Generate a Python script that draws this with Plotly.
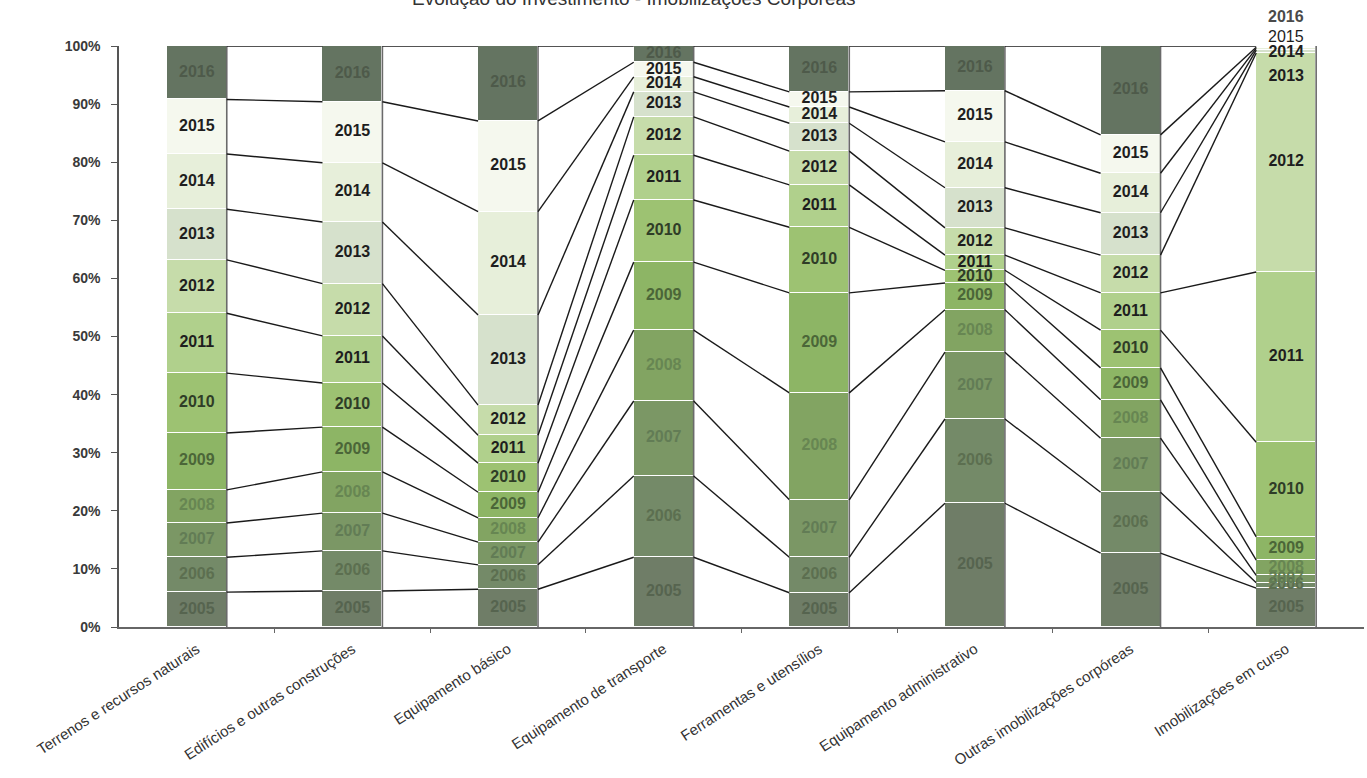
import numpy as np
import plotly.graph_objects as go

# Asset categories (x axis)
categories = [
    "Terrenos e recursos naturais",
    "Edifícios e outras construções",
    "Equipamento básico",
    "Equipamento de transporte",
    "Ferramentas e utensílios",
    "Equipamento administrativo",
    "Outras imobilizações corpóreas",
    "Imobilizações em curso",
]

years = [2005, 2006, 2007, 2008, 2009, 2010, 2011, 2012, 2013, 2014, 2015, 2016]

# Share of each year's investment within each category (%)
share_2005 = [6.0, 6.2, 6.5, 12.0, 5.9, 21.3, 12.7, 6.7]
share_2006 = [6.0, 6.9, 4.2, 14.0, 6.1, 14.5, 10.5, 0.9]
share_2007 = [5.9, 6.5, 3.9, 12.9, 9.9, 11.5, 9.3, 1.3]
share_2008 = [5.7, 7.1, 4.2, 12.2, 18.4, 7.3, 6.6, 2.6]
share_2009 = [9.8, 7.7, 4.4, 11.7, 17.2, 4.6, 5.5, 4.0]
share_2010 = [10.3, 7.6, 5.0, 10.7, 11.3, 2.2, 6.5, 16.3]
share_2011 = [10.3, 8.1, 4.8, 7.7, 7.3, 2.6, 6.4, 29.3]
share_2012 = [9.2, 9.0, 5.2, 6.6, 5.8, 4.7, 6.5, 37.7]
share_2013 = [8.7, 10.6, 15.5, 4.3, 4.8, 6.9, 7.3, 0.5]
share_2014 = [9.5, 10.2, 17.8, 2.6, 2.8, 7.9, 6.8, 0.3]
share_2015 = [9.4, 10.5, 15.6, 2.5, 2.6, 8.8, 6.6, 0.2]
share_2016 = [9.2, 9.6, 12.9, 2.8, 7.9, 7.7, 15.3, 0.2]

shares = [share_2005, share_2006, share_2007, share_2008, share_2009, share_2010,
          share_2011, share_2012, share_2013, share_2014, share_2015, share_2016]

# ---- styling ----
seg_colors = ["#6f7d67", "#748a68", "#7b9765", "#82a462", "#8db565", "#9dc272",
              "#b0d08c", "#c6dcaa", "#d6e1cc", "#e7efda", "#f5f8ee", "#647461"]
label_colors = ["#56644f", "#5c6f50", "#627c55", "#678652", "#4b6638", "#2f3d27",
                "#1e1e1e", "#1e1e1e", "#1e1e1e", "#1e1e1e", "#1e1e1e", "#4e5a4a"]
BAR_W = 0.385
FONT = "Liberation Sans, Arial, sans-serif"
LABEL_SIZE = 16

# label positions for the tiny top segments of the last bar (stacked above it)
label_y_override = {(7, 2013): 94.7, (7, 2014): 98.8, (7, 2015): 101.6, (7, 2016): 105.0}

vals = np.array(shares, dtype=float)             # years x categories
vals = vals / vals.sum(axis=0) * 100.0            # 100% stacked
tops = np.cumsum(vals, axis=0)
x_idx = np.arange(len(categories))

fig = go.Figure()

for k, yr in enumerate(years):
    fig.add_trace(go.Bar(
        x=x_idx, y=vals[k], width=BAR_W, name=str(yr),
        marker=dict(color=seg_colors[k], line=dict(color="#ffffff", width=1.5)),
        showlegend=False, hoverinfo="skip",
    ))

# dark shadow edge on the right side of each bar
ex, ey = [], []
for i in x_idx:
    ex += [i + BAR_W / 2, i + BAR_W / 2, None]
    ey += [0, 100, None]
fig.add_trace(go.Scatter(x=ex, y=ey, mode="lines", xaxis="x2",
                         line=dict(color="#6a6a6a", width=1.6),
                         showlegend=False, hoverinfo="skip"))

# series lines joining the top of each segment between neighbouring bars
lx, ly = [], []
for i in range(len(categories) - 1):
    for k in range(len(years)):
        lx += [i + BAR_W / 2, i + 1 - BAR_W / 2, None]
        ly += [tops[k, i], tops[k, i + 1], None]
fig.add_trace(go.Scatter(x=lx, y=ly, mode="lines", xaxis="x2",
                         line=dict(color="#1a1a1a", width=1.4),
                         showlegend=False, hoverinfo="skip"))

# year labels centred in each segment
tx, ty, tt, tc = [], [], [], []
for i in x_idx:
    for k, yr in enumerate(years):
        y = label_y_override.get((int(i), yr), tops[k, i] - vals[k, i] / 2)
        if y > 100:
            # labels lifted above the plot area (paper fraction == % on a 0-100 axis)
            fig.add_annotation(
                x=i, y=y / 100.0, xref="x", yref="paper", text=str(yr), showarrow=False,
                xanchor="center", yanchor="middle",
                font=dict(family=FONT, size=LABEL_SIZE,
                          color="#4a4a4a" if yr == 2016 else "#1e1e1e",
                          weight="bold" if yr == 2016 else "normal"),
            )
            continue
        tx.append(i)
        ty.append(y)
        tt.append(str(yr))
        tc.append(label_colors[k])
fig.add_trace(go.Scatter(x=tx, y=ty, mode="text", text=tt, cliponaxis=False,
                         textposition="middle center",
                         textfont=dict(family=FONT, size=LABEL_SIZE, color=tc, weight="bold"),
                         showlegend=False, hoverinfo="skip"))

fig.add_annotation(
    text="Evolução do Investimento - Imobilizações Corpóreas",
    xref="paper", yref="paper", x=0.414, y=1, yshift=35,
    xanchor="center", yanchor="bottom", showarrow=False,
    font=dict(family=FONT, size=19, color="#333333"),
)

fig.update_layout(
    width=1367, height=778,
    margin=dict(l=119, r=3, t=46, b=151),
    paper_bgcolor="#ffffff", plot_bgcolor="#ffffff",
    barmode="stack", bargap=0,
    xaxis=dict(
        range=[-0.5, len(categories) - 0.5], tickmode="array",
        tickvals=list(x_idx), ticktext=categories, tickangle=-33,
        ticks="", showgrid=False, zeroline=False, ticklabelstandoff=6,
        showline=True, linecolor="#666666", linewidth=1.5,
        tickfont=dict(family=FONT, size=15, color="#333333"),
    ),
    xaxis2=dict(
        range=[-0.5, len(categories) - 0.5], overlaying="x", anchor="y", side="bottom",
        tickmode="array", tickvals=[i + 0.5 for i in range(len(categories) - 1)],
        ticks="outside", ticklen=5, tickcolor="#666666", tickwidth=1,
        showticklabels=False, showgrid=False, zeroline=False, showline=False,
    ),
    yaxis=dict(
        range=[0, 100], tickmode="array", tickvals=list(range(0, 101, 10)),
        ticktext=[f"{v}%" for v in range(0, 101, 10)],
        ticks="outside", ticklen=6, tickcolor="#555555", tickwidth=1.2,
        showline=True, linecolor="#555555", linewidth=1.5,
        showgrid=False, zeroline=False, ticklabelstandoff=8,
        tickfont=dict(family=FONT, size=14, color="#3a3a3a", weight="bold"),
    ),
)

fig.write_html("out.html")
